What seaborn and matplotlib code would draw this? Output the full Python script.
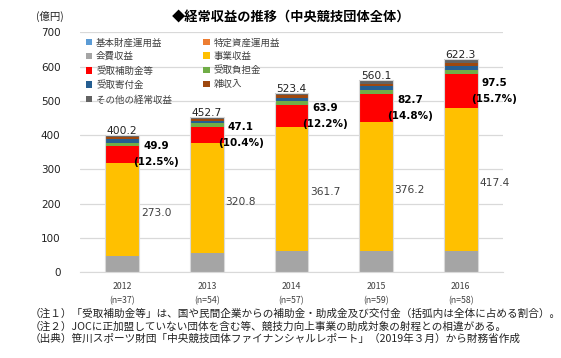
import matplotlib
matplotlib.use("Agg")
import matplotlib.pyplot as plt
import seaborn as sns
import pandas as pd
import numpy as np
from matplotlib.patches import Patch

sns.set_style("white")
plt.rcParams['font.family'] = ['Noto Sans CJK JP', 'DejaVu Sans']

years = ["2012", "2013", "2014", "2015", "2016"]
n_labels = ["(n=37)", "(n=54)", "(n=57)", "(n=59)", "(n=58)"]

series_names = ["基本財産運用益", "特定資産運用益", "会費収益", "事業収益", "受取補助金等",
                "受取負担金", "受取寄付金", "雑収入", "その他の経常収益"]
kihon = [0.4, 0.4, 0.4, 0.4, 0.4]
tokutei = [0.6, 0.6, 0.6, 0.6, 0.6]
kaihi = [45.5, 55.0, 61.0, 61.0, 61.5]
jigyo = [273.0, 320.8, 361.7, 376.2, 417.4]
hojo = [49.9, 47.1, 63.9, 82.7, 97.5]
futan = [9.0, 10.8, 13.5, 11.8, 14.3]
kifu = [12.0, 6.3, 8.9, 9.8, 9.5]
zatsu = [5.0, 5.4, 7.2, 7.9, 9.5]
sonota = [4.8, 6.3, 6.2, 9.7, 11.6]
totals = [400.2, 452.7, 523.4, 560.1, 622.3]
hojo_pct = ["(12.5%)", "(10.4%)", "(12.2%)", "(14.8%)", "(15.7%)"]

colors = ["#5B9BD5", "#ED7D31", "#A5A5A5", "#FFC000", "#FF0000",
          "#70AD47", "#255E91", "#9E480E", "#636363"]

values = [kihon, tokutei, kaihi, jigyo, hojo, futan, kifu, zatsu, sonota]
df = pd.DataFrame({name: vals for name, vals in zip(series_names, values)})
df["year"] = years
df["total"] = totals

fig = plt.figure(figsize=(5.61, 3.58), dpi=100)
ax = fig.add_axes([80/561, (358-272.3)/358, 423/561, (272.3-32.4)/358])

bottom = np.zeros(len(years))
bottoms = {}
for name, col in zip(series_names, colors):
    bottoms[name] = bottom.copy()
    sns.barplot(data=df, x="year", y=name, order=years, color=col, bottom=bottom,
                width=0.4, ax=ax, linewidth=0, saturation=1)
    bottom = bottom + df[name].values

# thin light outline around each whole column
sns.barplot(data=df, x="year", y="total", order=years, width=0.4, ax=ax,
            fill=False, edgecolor="#D9D9D9", linewidth=0.8)

ax.set_ylim(0, 700)
ax.set_xlim(-0.5, 4.5)
ax.set_yticks(range(0, 701, 100))
ax.yaxis.grid(True, color="#D9D9D9", linewidth=0.9)
ax.set_axisbelow(True)
for s in ["top", "right", "left"]:
    ax.spines[s].set_visible(False)
ax.spines["bottom"].set_color("#D9D9D9")
ax.set_xlabel("")
ax.set_ylabel("")
ax.tick_params(axis="y", length=0, pad=14, labelsize=7.5, labelcolor="#222222")
ax.tick_params(axis="x", length=0, pad=7, labelsize=6.3, labelcolor="#404040")
ax.set_xticks(range(len(years)))
ax.set_xticklabels([f"{y}\n{n}" for y, n in zip(years, n_labels)], linespacing=1.75)
for t in ax.get_yticklabels():
    t.set_family("DejaVu Sans")

# labels
for i in range(len(years)):
    ax.text(i, totals[i] + 12, f"{totals[i]:.1f}", ha="center", va="center",
            fontsize=7.7, family="DejaVu Sans", color="#222222")
    ymid = bottoms["事業収益"][i] + jigyo[i] / 2
    ax.text(i + 0.22, ymid - 10, f"{jigyo[i]:.1f}", ha="left", va="center",
            fontsize=7.7, family="DejaVu Sans", color="#404040")
    rmid = bottoms["受取補助金等"][i] + hojo[i] / 2
    ax.text(i + 0.4, rmid, f"{hojo[i]:.1f}\n{hojo_pct[i]}", ha="center", va="center",
            fontsize=7.5, family="DejaVu Sans", fontweight="bold", color="black",
            linespacing=1.75)

# legend (row-wise order in two columns)
handles = [Patch(facecolor=c, edgecolor="none") for c in colors]
order = [0, 2, 4, 6, 8, 1, 3, 5, 7]
leg = ax.legend([handles[k] for k in order], [series_names[k] for k in order],
                ncol=2, loc="upper left", bbox_to_anchor=(0.0, 1.0), frameon=False,
                fontsize=6.8, handlelength=0.7, handleheight=0.7, handletextpad=0.4,
                labelspacing=0.5, columnspacing=3.3, borderaxespad=0.2)
for t in leg.get_texts():
    t.set_color("#404040")

fig.text(291/561, 1 - 18/358, "◆経常収益の推移（中央競技団体全体）", ha="center", va="center",
         fontsize=9.5, fontweight="bold", color="black")
fig.text(64/561, 1 - 16/358, "(億円)", ha="right", va="center", fontsize=7.5, color="#222222")

notes = [
    "（注１）「受取補助金等」は、国や民間企業からの補助金・助成金及び交付金（括弧内は全体に占める割合）。",
    "（注２）JOCに正加盟していない団体を含む等、競技力向上事業の助成対象の射程との相違がある。",
    "（出典）笹川スポーツ財団「中央競技団体ファイナンシャルレポート」（2019年３月）から財務省作成",
]
for k, line in enumerate(notes):
    fig.text(30/561, 1 - (313.5 + 12.8 * k)/358, line, ha="left", va="center",
             fontsize=7.65, color="#222222")

fig.savefig("out.png", dpi=100)
